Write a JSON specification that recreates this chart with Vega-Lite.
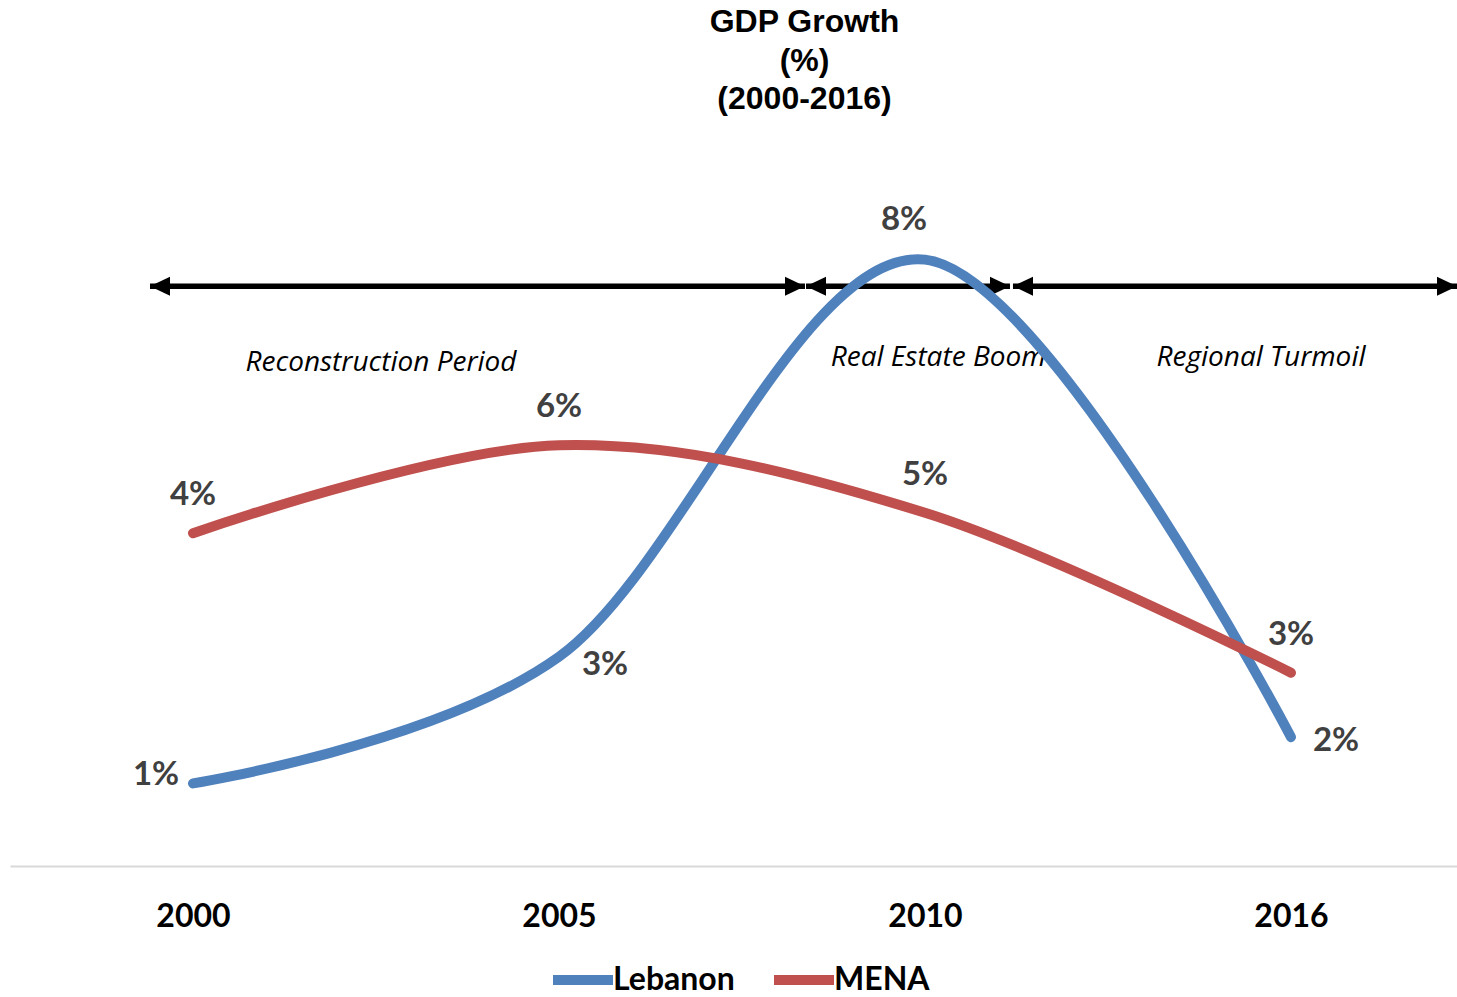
{
  "$schema": "https://vega.github.io/schema/vega-lite/v6.json",
  "width": 1447,
  "height": 758,
  "autosize": {"type": "none"},
  "padding": {"left": 10, "top": 108, "right": 0, "bottom": 131},
  "background": "white",
  "title": {
    "text": ["GDP Growth", "(%)", "(2000-2016)"],
    "font": "Liberation Sans",
    "fontSize": 32,
    "fontWeight": "bold",
    "color": "black",
    "lineHeight": 38.5,
    "anchor": "middle",
    "dx": 71,
    "offset": -8
  },
  "config": {"view": {"stroke": null}},
  "datasets": {
    "growth": [
      {"year": "2000", "idx": 0, "series": "Lebanon", "value": 1.09, "label": "1%"},
      {"year": "2005", "idx": 1, "series": "Lebanon", "value": 2.76, "label": "3%"},
      {"year": "2010", "idx": 2, "series": "Lebanon", "value": 8.0, "label": "8%"},
      {"year": "2016", "idx": 3, "series": "Lebanon", "value": 1.7, "label": "2%"},
      {"year": "2000", "idx": 0, "series": "MENA", "value": 4.39, "label": "4%"},
      {"year": "2005", "idx": 1, "series": "MENA", "value": 5.55, "label": "6%"},
      {"year": "2010", "idx": 2, "series": "MENA", "value": 4.66, "label": "5%"},
      {"year": "2016", "idx": 3, "series": "MENA", "value": 2.55, "label": "3%"}
    ],
    "arrows": [
      {"period": "Reconstruction Period", "start": -0.1175, "end": 1.6721, "level": 7.65},
      {"period": "Real Estate Boom", "start": 1.6749, "end": 2.2322, "level": 7.65},
      {"period": "Regional Turmoil", "start": 2.2404, "end": 3.4536, "level": 7.65}
    ],
    "periods": [
      {"period": "Reconstruction Period", "pos": 0.5137, "level": 6.636},
      {"period": "Real Estate Boom", "pos": 2.036, "level": 6.702},
      {"period": "Regional Turmoil", "pos": 2.918, "level": 6.702}
    ]
  },
  "encoding": {
    "x": {
      "type": "quantitative",
      "scale": {"domain": [-0.5, 3.4536], "nice": false, "zero": false},
      "axis": {
        "title": null,
        "values": [0, 1, 2, 3],
        "labelExpr": "['2000','2005','2010','2016'][datum.value]",
        "grid": false,
        "ticks": false,
        "domainColor": "#d9d9d9",
        "domainWidth": 2,
        "labelFont": "Lato",
        "labelFontSize": 32,
        "labelFontWeight": "bold",
        "labelColor": "black",
        "labelBaseline": "middle",
        "labelPadding": 50,
        "labelFlush": false,
        "labelOverlap": false
      }
    },
    "y": {
      "type": "quantitative",
      "scale": {"domain": [0, 10], "nice": false},
      "axis": null
    }
  },
  "layer": [
    {
      "data": {"name": "arrows"},
      "mark": {"type": "rule", "color": "black", "strokeWidth": 5.5},
      "encoding": {
        "x": {"field": "start"},
        "x2": {"field": "end"},
        "y": {"field": "level"}
      }
    },
    {
      "data": {"name": "arrows"},
      "mark": {"type": "point", "shape": "M0,0L2,-0.95L2,0.95Z", "filled": true, "color": "black", "size": 400, "opacity": 1, "clip": false},
      "encoding": {
        "x": {"field": "start"},
        "y": {"field": "level"}
      }
    },
    {
      "data": {"name": "arrows"},
      "mark": {"type": "point", "shape": "M0,0L-2,-0.95L-2,0.95Z", "filled": true, "color": "black", "size": 400, "opacity": 1, "clip": false},
      "encoding": {
        "x": {"field": "end"},
        "y": {"field": "level"}
      }
    },
    {
      "data": {"name": "periods"},
      "mark": {"type": "text", "font": "Open Sans", "fontSize": 28, "fontStyle": "italic", "color": "black", "align": "center", "baseline": "middle"},
      "encoding": {
        "x": {"field": "pos"},
        "y": {"field": "level"},
        "text": {"field": "period"}
      }
    },
    {
      "data": {"name": "growth"},
      "mark": {"type": "line", "interpolate": "cardinal", "strokeWidth": 10, "strokeCap": "round"},
      "encoding": {
        "x": {"field": "idx"},
        "y": {"field": "value"},
        "color": {
          "field": "series",
          "type": "nominal",
          "scale": {"domain": ["Lebanon", "MENA"], "range": ["#4f81bd", "#c0504d"]},
          "legend": {
            "title": null,
            "orient": "none",
            "direction": "horizontal",
            "legendX": 538,
            "legendY": 837,
            "symbolType": "stroke",
            "symbolSize": 3600,
            "symbolStrokeWidth": 10,
            "labelFont": "Lato",
            "labelFontSize": 32,
            "labelFontWeight": "bold",
            "labelColor": "black",
            "labelOffset": -5,
            "columnPadding": 19
          }
        }
      }
    },
    {
      "mark": {"type": "rule", "color": "#a6a6a6", "strokeWidth": 1.5},
      "encoding": {
        "x": {"datum": 1.9399},
        "x2": {"datum": 1.9945},
        "y": {"datum": 8.206},
        "y2": {"datum": 7.968}
      }
    },
    {
      "data": {"name": "growth"},
      "transform": [{"filter": "datum.series === 'MENA'"}],
      "mark": {"type": "text", "font": "Lato", "fontSize": 33, "fontWeight": "bold", "color": "#404040", "align": "center", "baseline": "middle", "dy": -38},
      "encoding": {
        "x": {"field": "idx"},
        "y": {"field": "value"},
        "text": {"field": "label"}
      }
    },
    {
      "data": {"name": "growth"},
      "transform": [{"filter": "datum.series === 'Lebanon' && datum.year === '2000'"}],
      "mark": {"type": "text", "font": "Lato", "fontSize": 33, "fontWeight": "bold", "color": "#404040", "align": "center", "baseline": "middle", "dx": -37, "dy": -8},
      "encoding": {
        "x": {"field": "idx"},
        "y": {"field": "value"},
        "text": {"field": "label"}
      }
    },
    {
      "data": {"name": "growth"},
      "transform": [{"filter": "datum.series === 'Lebanon' && datum.year === '2005'"}],
      "mark": {"type": "text", "font": "Lato", "fontSize": 33, "fontWeight": "bold", "color": "#404040", "align": "center", "baseline": "middle", "dx": 46, "dy": 8},
      "encoding": {
        "x": {"field": "idx"},
        "y": {"field": "value"},
        "text": {"field": "label"}
      }
    },
    {
      "data": {"name": "growth"},
      "transform": [{"filter": "datum.series === 'Lebanon' && datum.year === '2010'"}],
      "mark": {"type": "text", "font": "Lato", "fontSize": 33, "fontWeight": "bold", "color": "#404040", "align": "center", "baseline": "middle", "dx": -21, "dy": -40},
      "encoding": {
        "x": {"field": "idx"},
        "y": {"field": "value"},
        "text": {"field": "label"}
      }
    },
    {
      "data": {"name": "growth"},
      "transform": [{"filter": "datum.series === 'Lebanon' && datum.year === '2016'"}],
      "mark": {"type": "text", "font": "Lato", "fontSize": 33, "fontWeight": "bold", "color": "#404040", "align": "center", "baseline": "middle", "dx": 45, "dy": 4},
      "encoding": {
        "x": {"field": "idx"},
        "y": {"field": "value"},
        "text": {"field": "label"}
      }
    }
  ]
}
